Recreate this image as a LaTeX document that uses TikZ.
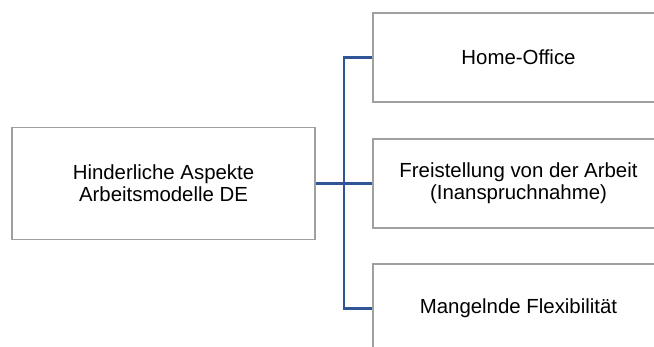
\documentclass[tikz,border=0pt]{standalone}
\usepackage{fontspec}
\setmainfont{Liberation Sans}
\usepackage{xcolor}
\definecolor{linkblue}{HTML}{2F5597}
\definecolor{framegray}{HTML}{A0A0A0}

\tikzset{
  box/.style={draw=framegray, line width=0.6pt, fill=white, align=center,
    font=\fontsize{10.2}{10.85}\selectfont, inner sep=0pt},
  rootbox/.style={box, minimum width=151.5pt, minimum height=56pt},
  leafbox/.style={box, minimum width=145.5pt, minimum height=44.5pt},
  link/.style={draw=linkblue, line width=1.1pt}
}

\begin{document}
\begin{tikzpicture}[x=0.5pt,y=-0.5pt]
\useasboundingbox (0,0) rectangle (654,347);
\clip (0,0) rectangle (654,347);

\node[rootbox] (root) at (163.5,183.5) {Hinderliche Aspekte\\Arbeitsmodelle DE};

\node[leafbox] (ho) at (518.5,57.5) {Home-Office};
\node[leafbox] (fr) at (518.5,183.5) {Freistellung von der Arbeit\\(Inanspruchnahme)};
\node[leafbox] (mf) at (518.5,308.5) {Mangelnde Flexibilit\"at};

% tree links
\coordinate (fork) at ([xshift=14pt]root.east);
\draw[link] (root.east) -- (fr.west);
\draw[link] (fork) |- (ho.west);
\draw[link] (fork) |- (mf.west);
\end{tikzpicture}
\end{document}
